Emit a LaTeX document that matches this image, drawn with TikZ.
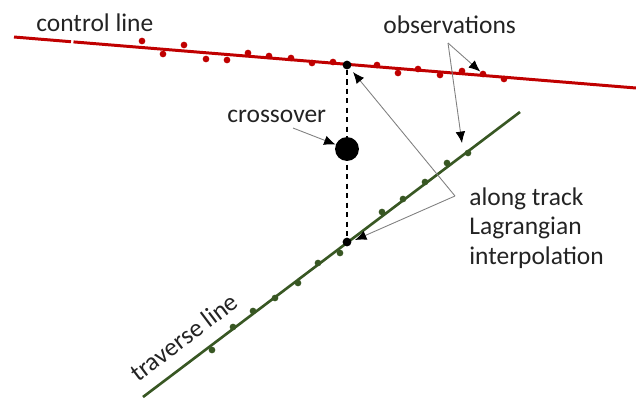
\documentclass[tikz,border=0pt]{standalone}
\usepackage{fontspec}
\setmainfont{Carlito}
\usetikzlibrary{arrows.meta,positioning}
\definecolor{ctrlred}{RGB}{192,0,0}
\definecolor{travgreen}{RGB}{56,87,35}
\definecolor{txtgray}{RGB}{35,35,35}
\tikzset{
	rdot/.style = {circle, fill=ctrlred, inner sep=0pt, minimum size=3.8pt}, % observations on the control line
	gdot/.style = {circle, fill=travgreen, inner sep=0pt, minimum size=3.8pt}, % observations on the traverse line
	xdot/.style = {circle, fill=black, inner sep=0pt, minimum size=5pt},
	lbl/.style = {text=txtgray, font=\fontsize{14.5}{17}\selectfont, inner sep=0pt},
	pointer/.style = {draw=gray, line width=0.5pt, -{Latex[black,length=6.5pt,width=5.5pt]}}
}

\begin{document}
\begin{tikzpicture}[x=0.02cm, y=-0.02cm]
            \useasboundingbox (0,0) rectangle (636,400);
            % the two tracks
            \coordinate (cl0) at (14,37);
            \coordinate (cl1) at (71,41.7);
            \coordinate (cl2) at (73.5,41.9);
            \coordinate (cl3) at (636,88);
            \coordinate (tl0) at (143,397);
            \coordinate (tl1) at (520,112);
            \draw[ctrlred, line width=1.7pt] (cl0) -- (cl1);
            \draw[ctrlred, line width=1.7pt] (cl2) -- (cl3);
            \draw[travgreen, line width=1.5pt] (tl0) -- (tl1);
            % observations
            \foreach \x/\y [count=\i] in {142/41,163/54,184/45,206/59,227/60,248/53,269/56,291/58,312/63,333/62,377/65,398/73,418/69,440/75,462/71,483/74,504/79}
                \node[rdot] (r\i) at (\x,\y) {};
            \foreach \x/\y [count=\i] in {212/350,233/327,253/311,275/298,298/283,318/263,340/253,382/212,403/199,425/182,447/163,468/153}
                \node[gdot] (g\i) at (\x,\y) {};
            % crossover
            \node[xdot] (1) at (347,65) {};
            \node[xdot] (2) at (347,242) {};
            \node[circle, fill=black, inner sep=0pt, minimum size=13.6pt] (3) at (347,149) {};
            \draw[black, line width=0.85pt, dash pattern=on 3pt off 2.4pt] (1) -- (2);
            % labels
            \node[lbl, anchor=base west] (ctl) at (36,31) {control line};
            \node[lbl, anchor=base west] (obs) at (383,33) {observations};
            \node[lbl, anchor=base west] (xo) at (227,122) {crossover};
            \node[lbl, rotate=37] (trv) at (184,337) {traverse line};
            \node[lbl, align=left, anchor=north west] (lag) at (469,187) {along track\\Lagrangian\\interpolation};
            % pointers
            \coordinate (xo-a) at (293,128);
            \coordinate (obs-a) at (448,43);
            \coordinate (obs-g) at (462,143);
            \coordinate (lag-a) at (455,196);
            \coordinate (lag-r) at (353,72);
            \coordinate (lag-g) at (355,240);
            \draw[pointer] (xo-a) -- (3);
            \draw[pointer] (obs-a) -- (r16);
            \draw[pointer] (obs-a) -- (obs-g);
            \draw[pointer] (lag-a) -- (lag-r);
            \draw[pointer] (lag-a) -- (lag-g);
\end{tikzpicture}
\end{document}
